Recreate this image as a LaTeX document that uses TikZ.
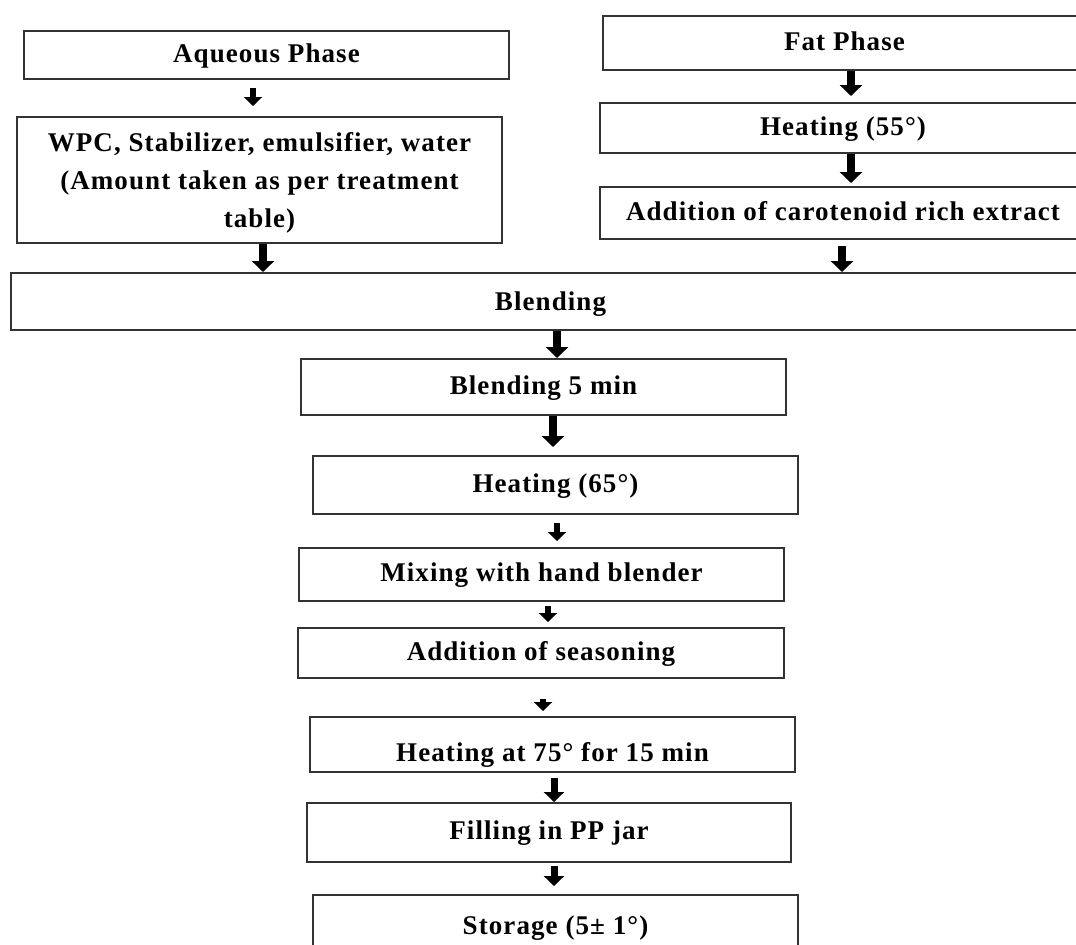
\documentclass[tikz,border=0pt]{standalone}
\usepackage{fontspec}
\setmainfont{Liberation Serif}[LetterSpace=4]
\usetikzlibrary{arrows.meta,calc}
\begin{document}
\begin{tikzpicture}[x=0.5pt,y=-0.5pt,
  boxbase/.style={draw=black!80, line width=1pt, inner sep=0pt, align=center,
    font=\fontsize{13.5}{19}\selectfont\bfseries},
  box/.style={boxbase, text height=9.5pt, text depth=2.5pt},
  arrbig/.style={line width=4pt, -{Triangle[width=11pt,length=5.5pt]}},
  arrmid/.style={line width=3.5pt, -{Triangle[width=10pt,length=5pt]}},
  arrsm/.style={line width=3pt, -{Triangle[width=9pt,length=4.5pt]}}]
\useasboundingbox (0,0) rectangle (1076,944);
\clip (0,0) rectangle (1076,944);
% left column
\node[box, minimum width=242.5pt, minimum height=24pt] (aq) at (266.5,55) {Aqueous Phase};
\node[boxbase, minimum width=242.5pt, minimum height=63pt] (wpc) at (259.5,180) {\rule{0pt}{12pt}WPC, Stabilizer, emulsifier, water\\(Amount taken as per treatment\\table)};
% right column
\node[box, minimum width=241.5pt, minimum height=27pt] (fat) at (844.5,43) {Fat Phase};
\node[box, minimum width=243pt, minimum height=25pt] (h55) at (843,128) {Heating (55°)};
\node[box, minimum width=243pt, minimum height=26pt] (car) at (843,213) {Addition of carotenoid rich extract};
% common
\node[box, text height=11pt, minimum width=539.5pt, minimum height=28.5pt] (bl) at (550.5,301.5) {Blending};
\node[box, minimum width=242.5pt, minimum height=28pt] (bl5) at (543.5,387) {Blending 5 min};
\node[box, minimum width=242.5pt, minimum height=29pt] (h65) at (555.5,485) {Heating (65°)};
\node[box, minimum width=242.5pt, minimum height=26.5pt] (mix) at (541.5,574.5) {Mixing with hand blender};
\node[box, minimum width=243pt, minimum height=25pt] (sea) at (541,653) {Addition of seasoning};
\node[boxbase, text height=19.5pt, text depth=2.5pt, minimum width=242.5pt, minimum height=27.5pt] (h75) at (552.5,744.5) {Heating at 75° for 15 min};
\node[box, minimum width=242pt, minimum height=29.5pt] (fill) at (549,832.5) {Filling in PP jar};
\node[box, minimum width=242.5pt, minimum height=32.5pt] (sto) at (555.5,927.5) {Storage (5± 1°)};
% arrows
\draw[arrsm] ($(aq.south)+(-13.5,8)$) -- ($(wpc.north)+(-6.5,-10)$);
\draw[arrbig] ($(wpc.south)+(3.5,0)$) -- ($(bl.north)+(-287.5,0)$);
\draw[arrbig] ($(fat.south)+(6.5,0)$) -- ($(h55.north)+(8,-6)$);
\draw[arrbig] ($(h55.south)+(8,0)$) -- ($(car.north)+(8,-3)$);
\draw[arrbig] ($(car.south)+(-1,6)$) -- ($(bl.north)+(291.5,0)$);
\draw[arrbig] ($(bl.south)+(6.5,0)$) -- ($(bl5.north)+(13.5,0)$);
\draw[arrbig] ($(bl5.south)+(9.5,0)$) -- ($(h65.north)+(-2.5,-8)$);
\draw[arrsm] ($(h65.south)+(1.5,8)$) -- ($(mix.north)+(15.5,-6)$);
\draw[arrsm] ($(mix.south)+(6.5,4)$) -- ($(sea.north)+(7,-5)$);
\draw[arrsm] ($(sea.south)+(2,20)$) -- ($(h75.north)+(-9.5,-5)$);
\draw[arrmid] ($(h75.south)+(1.5,5)$) -- ($(fill.north)+(5,0)$);
\draw[arrmid] ($(fill.south)+(5,3)$) -- ($(sto.north)+(-1.5,-8)$);
\end{tikzpicture}
\end{document}
